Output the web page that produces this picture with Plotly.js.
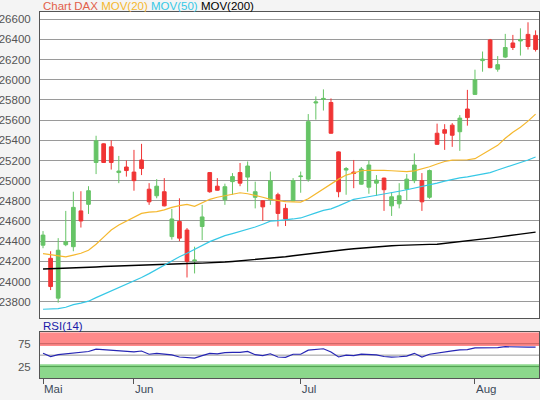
<!DOCTYPE html>
<html>
<head>
<meta charset="utf-8">
<script src="https://cdn.plot.ly/plotly-3.0.1.min.js"></script>
<style>html,body{margin:0;padding:0;background:#f4f4f4;}#chart{width:540px;height:400px;}</style>
</head>
<body>
<div id="chart"></div>
<script>
// trading-day index of each candle
const dayIndex = [...Array(66).keys()];
const openP  = [24360,24230,23835,24365,24345,24700,24765,25180,25365,25335,25080,25135,25085,25205,24915,24850,24890,24445,24595,24510,24205,24545,25080,24945,24810,24990,25080,25035,24835,24800,24815,24860,24725,24800,25040,25015,25770,25805,25775,25285,25105,25085,24965,24935,24975,25025,24750,24770,24915,25000,25000,24835,25470,25505,25550,25485,25710,25855,26190,26395,26105,26225,26365,26385,26450,26440];
const highP  = [24500,24300,24430,24700,24890,24895,24945,25445,25370,25400,25245,25200,25305,25365,24975,25015,25025,24720,24825,24530,24345,24760,25085,25025,24970,25075,25175,25190,24990,24805,25090,24880,24770,25025,25090,25660,25835,25905,25815,25290,25135,25205,25135,25200,25055,25030,24885,24975,25065,25270,25075,25110,25565,25560,25570,25650,25900,26100,26280,26405,26235,26455,26445,26510,26570,26490];
const lowP   = [24330,23915,23790,24350,24300,24535,24670,25065,25175,25110,24975,25040,24900,25055,24760,24825,24745,24415,24400,24040,24080,24410,24880,24900,24760,24860,24945,24890,24725,24600,24760,24545,24550,24800,24880,24990,25605,25695,25465,24835,24860,24925,24960,24870,24850,24700,24650,24725,24805,24975,24700,24820,25355,25305,25335,25295,25545,25855,26080,26115,26080,26215,26295,26240,26300,26280];
const closeP = [24460,23950,24310,24395,24735,24600,24900,25395,25180,25180,25095,25100,25000,25120,24790,24945,24750,24620,24430,24200,24212,24640,24890,24905,24940,25040,24975,25145,24890,24740,25000,24675,24620,25000,25045,25585,25780,25815,25470,24890,25120,25072,25115,25155,25005,24910,24840,24850,25015,25155,24790,25100,25360,25470,25450,25620,25625,26000,26205,26120,26150,26320,26320,26400,26330,26300];
const mov20  = [24277,24265,24250,24245,24262,24280,24310,24370,24440,24510,24560,24598,24640,24675,24688,24692,24710,24735,24752,24765,24745,24780,24815,24835,24848,24862,24880,24870,24855,24835,24815,24800,24792,24790,24787,24820,24870,24918,24965,25015,25055,25080,25098,25103,25106,25102,25098,25092,25090,25097,25115,25138,25165,25190,25203,25205,25207,25218,25262,25305,25350,25420,25480,25530,25590,25660];
const mov50  = [23725,23728,23732,23745,23770,23785,23805,23840,23872,23905,23937,23968,24000,24040,24078,24120,24165,24205,24245,24280,24318,24360,24395,24425,24455,24475,24495,24515,24540,24568,24598,24604,24610,24620,24630,24658,24680,24705,24720,24750,24785,24815,24828,24840,24852,24865,24880,24895,24910,24925,24938,24955,24975,24995,25015,25028,25038,25050,25065,25080,25105,25130,25155,25175,25205,25235];
const mov200 = [24124,24126,24128,24130,24133,24136,24140,24144,24148,24151,24155,24158,24162,24165,24168,24172,24175,24178,24180,24181,24181,24182,24184,24187,24193,24199,24205,24212,24220,24228,24236,24240,24245,24255,24265,24275,24285,24292,24300,24310,24318,24325,24332,24340,24346,24350,24354,24358,24362,24364,24366,24368,24370,24378,24386,24394,24400,24410,24420,24430,24440,24452,24462,24470,24480,24490];
const rsi14  = [54,47,51,53,55.5,57,58,63,62,61,60,58,57,59,52,54,52.5,50.5,46,44,43.5,49,54,53,55.5,56,56,58,51,49,53,46,45,52,52,61,63,64,57,46,50,49,52,51,50.7,47,45.6,46.5,48,54,45.6,52,55,58,59.5,61.5,62,66,66,65,66.5,68.5,68.7,68.7,67.5,67.4];
const monthTickIdx = [0,12,34,57];
const monthLabels = ['Mai','Jun','Jul','Aug'];
const priceTicks = [23800,24000,24200,24400,24600,24800,25000,25200,25400,25600,25800,26000,26200,26400,26600];

const RED = '#f03434', GREEN = '#66c466';
const C_TITLE = '#e2604a', C20 = '#f5b82e', C50 = '#36c8e6';

const traces = [
  {type:'candlestick', x:dayIndex, open:openP, high:highP, low:lowP, close:closeP,
   xaxis:'x', yaxis:'y', whiskerwidth:0, line:{width:1},
   increasing:{line:{color:GREEN,width:1}, fillcolor:GREEN},
   decreasing:{line:{color:RED,width:1}, fillcolor:RED},
   hoverinfo:'skip', showlegend:false},
  {type:'scatter', mode:'lines', x:dayIndex, y:mov200, xaxis:'x', yaxis:'y', line:{color:'#000000', width:1.4}, hoverinfo:'skip', showlegend:false},
  {type:'scatter', mode:'lines', x:dayIndex, y:mov50, xaxis:'x', yaxis:'y', line:{color:C50, width:1.2}, hoverinfo:'skip', showlegend:false},
  {type:'scatter', mode:'lines', x:dayIndex, y:mov20, xaxis:'x', yaxis:'y', line:{color:C20, width:1.2}, hoverinfo:'skip', showlegend:false},
  {type:'scatter', mode:'lines', x:dayIndex, y:rsi14, xaxis:'x2', yaxis:'y2', line:{color:'#2626b4', width:1.2}, hoverinfo:'skip', showlegend:false}
];

const xr = [-0.4, 65.45];
const layout = {
  width:540, height:400,
  margin:{l:40, r:1, t:12, b:22},
  paper_bgcolor:'#f4f4f4', plot_bgcolor:'#ffffff',
  font:{family:'Liberation Sans, Arial, sans-serif', size:11, color:'#555555'},
  showlegend:false,
  xaxis:{domain:[0,1], anchor:'y', range:xr, showgrid:false, zeroline:false, showticklabels:false, ticks:'',
         showline:true, mirror:true, linecolor:'#555555', linewidth:1, rangeslider:{visible:false}, fixedrange:true},
  yaxis:{domain:[0.1639,1], anchor:'x', range:[23638,26672], tickvals:priceTicks, ticktext:priceTicks.map(String),
         showgrid:true, gridcolor:'#9a9a9a', gridwidth:1, zeroline:false, ticks:'', ticklabelstandoff:6,
         showline:true, mirror:true, linecolor:'#555555', linewidth:1, tickfont:{size:11.5,color:'#555555'}},
  xaxis2:{domain:[0,1], anchor:'y2', range:xr, matches:'x', showgrid:false, zeroline:false,
          tickvals:monthTickIdx, ticktext:monthLabels, ticks:'outside', ticklen:5, tickcolor:'#555555',
          ticklabelposition:'outside right', tickfont:{size:11.5,color:'#3d4a5a'},
          showline:true, mirror:true, linecolor:'#555555', linewidth:1, rangeslider:{visible:false}},
  yaxis2:{domain:[0,0.1249], anchor:'x2', range:[0,100], tickvals:[25,50,75], ticktext:['25','','75'],
          showgrid:false, zeroline:false, ticks:'', ticklabelstandoff:6,
          showline:true, mirror:true, linecolor:'#555555', linewidth:1, tickfont:{size:11.5,color:'#555555'}},
  shapes:[
    {type:'rect', xref:'paper', yref:'y2', x0:0, x1:1, y0:70, y1:100, fillcolor:'#ff8a8a', line:{width:0}, layer:'below'},
    {type:'rect', xref:'paper', yref:'y2', x0:0, x1:1, y0:0, y1:30, fillcolor:'#8cd88c', line:{width:0}, layer:'below'},
    {type:'line', xref:'paper', yref:'y2', x0:0, x1:1, y0:75, y1:75, line:{color:'#c46060', width:1}, layer:'below'},
    {type:'line', xref:'paper', yref:'y2', x0:0, x1:1, y0:50, y1:50, line:{color:'#9a9a9a', width:1}, layer:'below'},
    {type:'line', xref:'paper', yref:'y2', x0:0, x1:1, y0:25, y1:25, line:{color:'#4f9f4f', width:1}, layer:'below'}
  ],
  annotations:[
    {xref:'paper', yref:'paper', x:0, y:1, xanchor:'left', yanchor:'bottom', xshift:1, yshift:-2, showarrow:false,
     font:{size:11.5, color:'#000000'},
     text:'<span style="color:'+C_TITLE+'">Chart DAX</span> <span style="color:'+C20+'">MOV(20)</span> <span style="color:'+C50+'">MOV(50)</span> <span style="color:#000000">MOV(200)</span>'},
    {xref:'paper', yref:'paper', x:0, y:0.1249, xanchor:'left', yanchor:'bottom', xshift:1, yshift:-2, showarrow:false,
     font:{size:11.5, color:'#1a1aa8'}, text:'RSI(14)'}
  ]
};

Plotly.newPlot('chart', traces, layout, {staticPlot:true, displayModeBar:false});
</script>
</body>
</html>
